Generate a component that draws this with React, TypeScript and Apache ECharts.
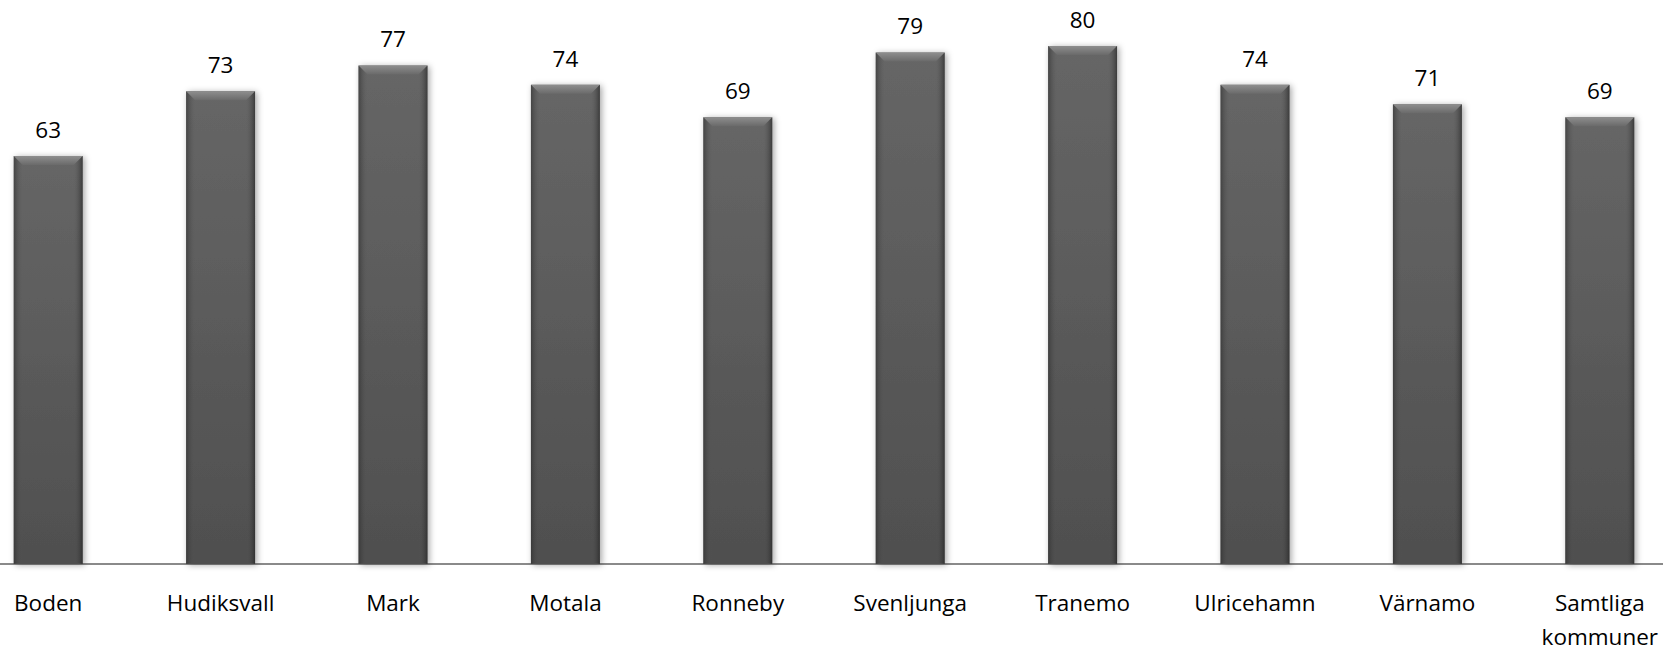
import React, { useEffect, useRef } from "react";
import * as echarts from "echarts";

const categories = [
  "Boden",
  "Hudiksvall",
  "Mark",
  "Motala",
  "Ronneby",
  "Svenljunga",
  "Tranemo",
  "Ulricehamn",
  "Värnamo",
  "Samtliga\nkommuner",
];
const values = [63, 73, 77, 74, 69, 79, 80, 74, 71, 69];

const FONT = "'Open Sans', 'Noto Sans', sans-serif";

export default function App() {
  const ref = useRef<HTMLDivElement>(null);
  useEffect(() => {
    if (!ref.current) return;
    const chart = echarts.init(ref.current, null, { renderer: "svg" });
    const bevel = 9;
    chart.setOption({
      animation: false,
      backgroundColor: "#ffffff",
      grid: { left: 0, right: 0, top: 46, bottom: 80, containLabel: false },
      xAxis: {
        type: "category",
        data: categories,
        axisTick: { show: false },
        axisLine: { show: true, lineStyle: { color: "#8a8a8a", width: 2 } },
        axisLabel: {
          color: "#000",
          fontSize: 22.5,
          fontFamily: FONT,
          margin: 21,
          lineHeight: 34,
          interval: 0,
        },
        splitLine: { show: false },
      },
      yAxis: {
        type: "value",
        min: 0,
        max: 80,
        show: false,
        splitLine: { show: false },
      },
      series: [
        {
          type: "bar",
          data: values,
          barWidth: "40%",
          itemStyle: {
            color: new echarts.graphic.LinearGradient(0, 0, 0, 1, [
              { offset: 0, color: "#666666" },
              { offset: 1, color: "#4f4f4f" },
            ]),
            shadowColor: "rgba(0,0,0,0.35)",
            shadowBlur: 6,
            shadowOffsetX: 2,
            shadowOffsetY: 1,
          },
          label: {
            show: true,
            position: "top",
            distance: 15,
            color: "#000",
            fontSize: 22.5,
            fontFamily: FONT,
          },
          z: 2,
        },
        {
          type: "custom",
          silent: true,
          z: 3,
          data: values.map((v, i) => [i, v]),
          renderItem: (params: any, api: any) => {
            const idx = api.value(0);
            const val = api.value(1);
            const top = api.coord([idx, val]);
            const base = api.coord([idx, 0]);
            const w = api.size([1, 0])[0] * 0.4;
            const l = top[0] - w / 2;
            const r = top[0] + w / 2;
            const t = top[1];
            const b = base[1];
            return {
              type: "group",
              children: [
                {
                  type: "polygon",
                  shape: {
                    points: [
                      [l, t],
                      [r, t],
                      [r - bevel, t + bevel],
                      [l + bevel, t + bevel],
                    ],
                  },
                  style: {
                    fill: new echarts.graphic.LinearGradient(0, 0, 0, 1, [
                      { offset: 0, color: "#8e8e8e" },
                      { offset: 1, color: "#6a6a6a" },
                    ]),
                  },
                },
                {
                  type: "polygon",
                  shape: {
                    points: [
                      [l, t],
                      [l + bevel, t + bevel],
                      [l + bevel, b - 2],
                      [l, b],
                    ],
                  },
                  style: {
                    fill: new echarts.graphic.LinearGradient(0, 0, 1, 0, [
                      { offset: 0, color: "rgba(40,40,40,0.55)" },
                      { offset: 1, color: "rgba(90,90,90,0)" },
                    ]),
                  },
                },
                {
                  type: "polygon",
                  shape: {
                    points: [
                      [r, t],
                      [r - bevel, t + bevel],
                      [r - bevel, b - 2],
                      [r, b],
                    ],
                  },
                  style: {
                    fill: new echarts.graphic.LinearGradient(1, 0, 0, 0, [
                      { offset: 0, color: "rgba(30,30,30,0.6)" },
                      { offset: 1, color: "rgba(90,90,90,0)" },
                    ]),
                  },
                },
              ],
            };
          },
        },
      ],
    });
    return () => chart.dispose();
  }, []);
  return (
    <div
      style={{
        position: "fixed",
        left: 0,
        top: 0,
        width: 1663,
        height: 653,
        overflow: "hidden",
        background: "#fff",
      }}
    >
      <div
        ref={ref}
        style={{ position: "absolute", left: -38, top: 0, width: 1724, height: 653 }}
      />
    </div>
  );
}
